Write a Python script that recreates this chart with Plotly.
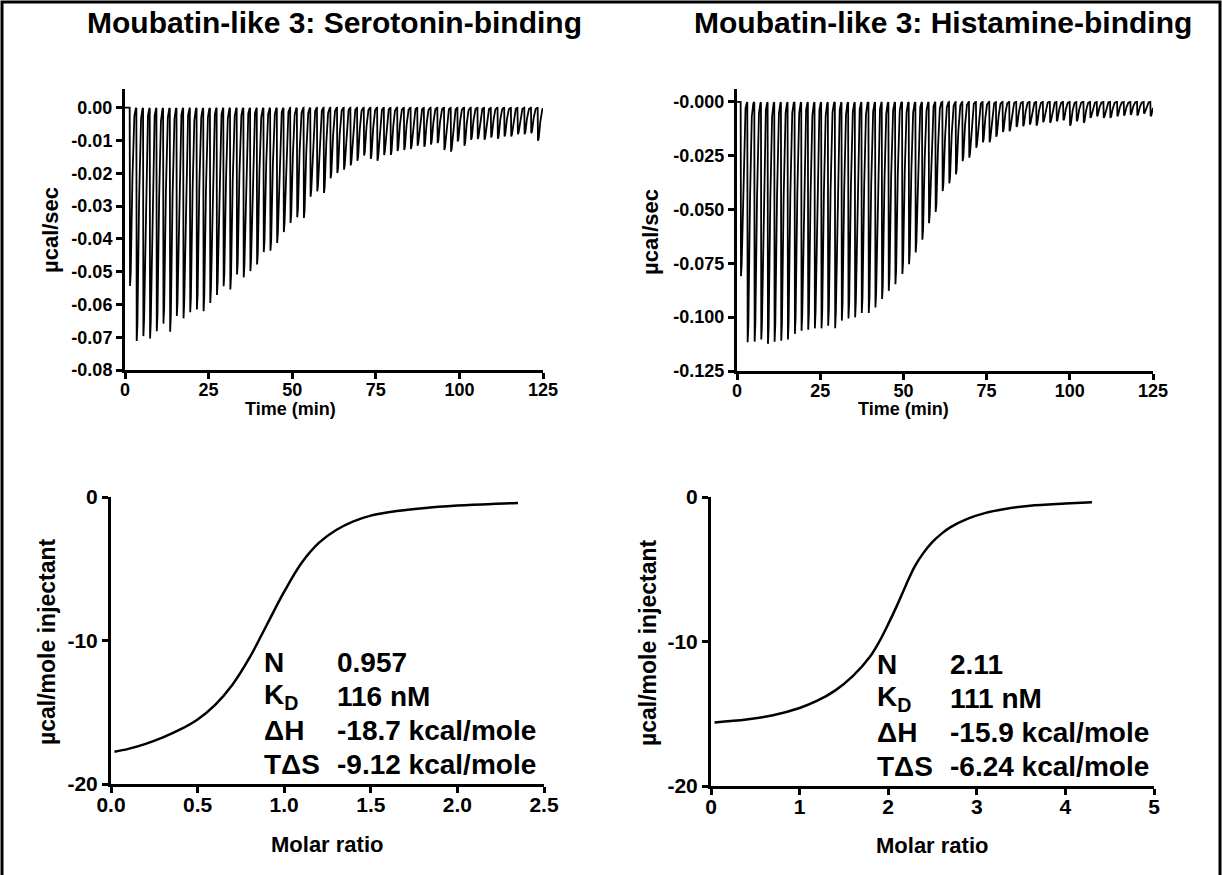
import numpy as np
import plotly.graph_objects as go

# ---------------- data ----------------
# Injection times (min) of the raw ITC thermograms
inj_time_sero = [1.4, 3.4, 5.4, 7.4, 9.4, 11.4, 13.4, 15.4, 17.4, 19.4,
                 21.4, 23.4, 25.4, 27.4, 29.4, 31.4, 33.4, 35.4, 37.4, 39.4,
                 41.4, 43.4, 45.4, 47.4, 49.4, 51.4, 53.4, 55.4, 57.4, 59.4,
                 61.4, 63.4, 65.4, 67.4, 69.4, 71.4, 73.4, 75.4, 77.4, 79.4,
                 81.4, 83.4, 85.4, 87.4, 89.4, 91.4, 93.4, 95.4, 97.4, 99.4,
                 101.4, 103.4, 105.4, 107.4, 109.4, 111.4, 113.4, 115.4, 117.4, 119.4,
                 121.4, 123.4]
# Peak heat-rate minima (ucal/sec) of each injection
peak_sero = [-0.0544, -0.0711, -0.0696, -0.0703, -0.0681, -0.0658, -0.0683, -0.0635, -0.0642, -0.0623,
             -0.0615, -0.0620, -0.0595, -0.0571, -0.0544, -0.0554, -0.0508, -0.0517, -0.0498, -0.0478,
             -0.0440, -0.0436, -0.0412, -0.0379, -0.0351, -0.0334, -0.0336, -0.0271, -0.0255, -0.0260,
             -0.0215, -0.0199, -0.0189, -0.0176, -0.0162, -0.0146, -0.0156, -0.0162, -0.0144, -0.0144,
             -0.0132, -0.0129, -0.0126, -0.0116, -0.0119, -0.0112, -0.0108, -0.0129, -0.0134, -0.0103,
             -0.0116, -0.0098, -0.0095, -0.0098, -0.0091, -0.0095, -0.0088, -0.0088, -0.0081, -0.0081,
             -0.0078, -0.0101]

inj_time_hist = [1.1, 3.1, 5.2, 7.2, 9.2, 11.2, 13.2, 15.2, 17.3, 19.3,
                 21.3, 23.3, 25.3, 27.3, 29.4, 31.4, 33.4, 35.4, 37.4, 39.5,
                 41.5, 43.5, 45.5, 47.5, 49.6, 51.6, 53.6, 55.6, 57.6, 59.6,
                 61.7, 63.7, 65.7, 67.7, 69.7, 71.8, 73.8, 75.8, 77.8, 79.8,
                 81.8, 83.9, 85.9, 87.9, 89.9, 91.9, 94.0, 96.0, 98.0, 100.0,
                 102.0, 104.1, 106.1, 108.1, 110.1, 112.1, 114.2, 116.2, 118.2, 120.2,
                 122.2, 124.2]
peak_hist = [-0.0810, -0.1116, -0.1113, -0.1103, -0.1123, -0.1113, -0.1108, -0.1103, -0.1077, -0.1062,
             -0.1057, -0.1051, -0.1051, -0.1039, -0.1051, -0.1015, -0.1005, -0.1000, -0.0980, -0.0980,
             -0.0954, -0.0915, -0.0877, -0.0846, -0.0799, -0.0753, -0.0699, -0.0640, -0.0563, -0.0511,
             -0.0414, -0.0378, -0.0336, -0.0275, -0.0259, -0.0213, -0.0187, -0.0187, -0.0162, -0.0140,
             -0.0136, -0.0116, -0.0113, -0.0105, -0.0110, -0.0094, -0.0097, -0.0090, -0.0085, -0.0110,
             -0.0090, -0.0097, -0.0074, -0.0066, -0.0074, -0.0074, -0.0066, -0.0063, -0.0059, -0.0063,
             -0.0054, -0.0066]

# Fitted binding isotherms
ratio_sero = [0.02, 0.10, 0.20, 0.30, 0.40, 0.50, 0.60, 0.70, 0.80, 0.90,
              1.00, 1.10, 1.20, 1.30, 1.40, 1.50, 1.65, 1.80, 2.00, 2.20, 2.35]
heat_sero = [-17.75, -17.55, -17.2, -16.75, -16.2, -15.5, -14.5, -13.1, -11.2, -8.9,
             -6.6, -4.6, -3.2, -2.3, -1.7, -1.3, -0.98, -0.78, -0.6, -0.48, -0.42]

ratio_hist = [0.04, 0.40, 0.70, 1.00, 1.20, 1.40, 1.60, 1.80, 1.90, 2.00, 2.10,
              2.20, 2.30, 2.40, 2.50, 2.60, 2.70, 2.90, 3.10, 3.30, 3.60, 4.00, 4.30]
heat_hist = [-15.6, -15.4, -15.1, -14.6, -14.1, -13.4, -12.4, -11.0, -10.0, -8.8, -7.5,
             -6.1, -4.8, -3.85, -3.1, -2.55, -2.1, -1.5, -1.1, -0.85, -0.6, -0.45, -0.36]

titles = ["Moubatin-like 3: Serotonin-binding", "Moubatin-like 3: Histamine-binding"]
params_labels = ["N", "K<sub>D</sub>", "ΔH", "TΔS"]
params_sero = ["0.957", "116 nM", "-18.7 kcal/mole", "-9.12 kcal/mole"]
params_hist = ["2.11", "111 nM", "-15.9 kcal/mole", "-6.24 kcal/mole"]

yt_sero_vals = [0.00, -0.01, -0.02, -0.03, -0.04, -0.05, -0.06, -0.07, -0.08]
yt_sero_text = ["0.00", "-0.01", "-0.02", "-0.03", "-0.04", "-0.05", "-0.06", "-0.07", "-0.08"]
yt_hist_vals = [0.0, -0.025, -0.05, -0.075, -0.1, -0.125]
yt_hist_text = ["-0.000", "-0.025", "-0.050", "-0.075", "-0.100", "-0.125"]
time_ticks = [0, 25, 50, 75, 100, 125]
iso_y_vals = [0, -10, -20]
iso_y_text = ["0", "-10", "-20"]
ratio_ticks_sero = [0.0, 0.5, 1.0, 1.5, 2.0, 2.5]
ratio_text_sero = ["0.0", "0.5", "1.0", "1.5", "2.0", "2.5"]
ratio_ticks_hist = [0, 1, 2, 3, 4, 5]


# ------------- thermogram construction from injection peaks -------------
def thermogram(times, peaks, t_end=125.0, dt=0.02):
    t = np.arange(0.0, t_end + dt / 2, dt)
    y = np.zeros_like(t)
    for ti, pk in zip(times, peaks):
        s = t - ti
        k = np.zeros_like(s)
        drop = (s >= 0) & (s < 0.1)
        k[drop] = s[drop] / 0.1
        rec = s >= 0.1
        k[rec] = np.exp(-((s[rec] - 0.1) / 0.75) ** 2)
        y += pk * k
    return t, y


t1, y1 = thermogram(inj_time_sero, peak_sero)
t2, y2 = thermogram(inj_time_hist, peak_hist)

W, H = 1222, 875


def px(x):
    return x / W


def py(y):
    return 1 - y / H


FONT = "Liberation Sans, Arial, sans-serif"

fig = go.Figure()
fig.add_trace(go.Scatter(x=t1, y=y1, mode="lines", line=dict(color="black", width=1.8),
                         xaxis="x", yaxis="y", showlegend=False))
fig.add_trace(go.Scatter(x=t2, y=y2, mode="lines", line=dict(color="black", width=1.8),
                         xaxis="x2", yaxis="y2", showlegend=False))
fig.add_trace(go.Scatter(x=ratio_sero, y=heat_sero, mode="lines",
                         line=dict(color="black", width=2.5, shape="spline", smoothing=1.0),
                         xaxis="x3", yaxis="y3", showlegend=False))
fig.add_trace(go.Scatter(x=ratio_hist, y=heat_hist, mode="lines",
                         line=dict(color="black", width=2.5, shape="spline", smoothing=1.0),
                         xaxis="x4", yaxis="y4", showlegend=False))


def axis(size, **kw):
    d = dict(showline=True, linewidth=3, linecolor="black", ticks="outside", ticklen=6,
             tickwidth=2.5, tickcolor="black", showgrid=False, zeroline=False,
             tickfont=dict(family=FONT, size=size, color="black", weight="bold"),
             mirror=False, automargin=False, fixedrange=True)
    d.update(kw)
    return d


fig.update_layout(
    width=W, height=H,
    margin=dict(l=0, r=0, t=0, b=0, pad=0, autoexpand=False),
    paper_bgcolor="white", plot_bgcolor="white",
    xaxis=axis(18, domain=[px(125), px(543)], anchor="y", range=[0, 125], tickvals=time_ticks,
               ticklabelstandoff=-5),
    yaxis=axis(18, domain=[py(370), py(89)], anchor="x", range=[-0.08, 0.0057],
               tickvals=yt_sero_vals, ticktext=yt_sero_text),
    xaxis2=axis(18, domain=[px(737), px(1153)], anchor="y2", range=[0, 125], tickvals=time_ticks,
                ticklabelstandoff=-5),
    yaxis2=axis(18, domain=[py(371), py(89)], anchor="x2", range=[-0.125, 0.006],
                tickvals=yt_hist_vals, ticktext=yt_hist_text),
    xaxis3=axis(21, domain=[px(111), px(544)], anchor="y3", range=[0, 2.5],
                tickvals=ratio_ticks_sero, ticktext=ratio_text_sero, ticklabelstandoff=-6),
    yaxis3=axis(21, domain=[py(784), py(497)], anchor="x3", range=[-20, 0],
                tickvals=iso_y_vals, ticktext=iso_y_text),
    xaxis4=axis(21, domain=[px(711), px(1154)], anchor="y4", range=[0, 5],
                tickvals=ratio_ticks_hist, ticklabelstandoff=-6),
    yaxis4=axis(21, domain=[py(786), py(497)], anchor="x4", range=[-20, 0],
                tickvals=iso_y_vals, ticktext=iso_y_text),
)

ann = []
bold = dict(family=FONT, color="black", weight="bold")
# titles
ann.append(dict(x=px(334), y=py(23), text=titles[0], font=dict(size=30, **bold)))
ann.append(dict(x=px(943), y=py(23), text=titles[1], font=dict(size=30, **bold)))
# axis titles
ann.append(dict(x=px(290), y=py(409), text="Time (min)", font=dict(size=18, **bold)))
ann.append(dict(x=px(903), y=py(409), text="Time (min)", font=dict(size=18, **bold)))
ann.append(dict(x=px(327), y=py(844), text="Molar ratio", font=dict(size=22, **bold)))
ann.append(dict(x=px(932), y=py(845), text="Molar ratio", font=dict(size=22, **bold)))
ann.append(dict(x=px(50), y=py(230), text="µcal/sec", textangle=-90, font=dict(size=22, **bold)))
ann.append(dict(x=px(651), y=py(232), text="µcal/sec", textangle=-90, font=dict(size=22, **bold)))
ann.append(dict(x=px(47), y=py(642), text="µcal/mole injectant", textangle=-90, font=dict(size=23, **bold)))
ann.append(dict(x=px(648), y=py(643), text="µcal/mole injectant", textangle=-90, font=dict(size=23, **bold)))

rows_y_left = [662, 696, 730, 764]
rows_y_right = [664, 698, 732, 766]
for lab, val, yy in zip(params_labels, params_sero, rows_y_left):
    ann.append(dict(x=px(262), y=py(yy), text=lab, xanchor="left", font=dict(size=28, **bold)))
    ann.append(dict(x=px(335), y=py(yy), text=val, xanchor="left", font=dict(size=28, **bold)))
for lab, val, yy in zip(params_labels, params_hist, rows_y_right):
    ann.append(dict(x=px(875), y=py(yy), text=lab, xanchor="left", font=dict(size=28, **bold)))
    ann.append(dict(x=px(948), y=py(yy), text=val, xanchor="left", font=dict(size=28, **bold)))

for a in ann:
    a.setdefault("xanchor", "center")
    a.update(xref="paper", yref="paper", yanchor="middle", showarrow=False)
fig.update_layout(annotations=ann)

# outer frame (bottom edge falls outside the picture, as in the reference)
fig.add_shape(type="rect", xref="paper", yref="paper", x0=px(2), x1=px(1220), y0=py(880), y1=py(2),
              line=dict(color="black", width=3), fillcolor="rgba(0,0,0,0)")

fig.write_html("out.html", config={"displayModeBar": False},
               post_script="document.body.style.margin='0';document.body.style.overflow='hidden';")
